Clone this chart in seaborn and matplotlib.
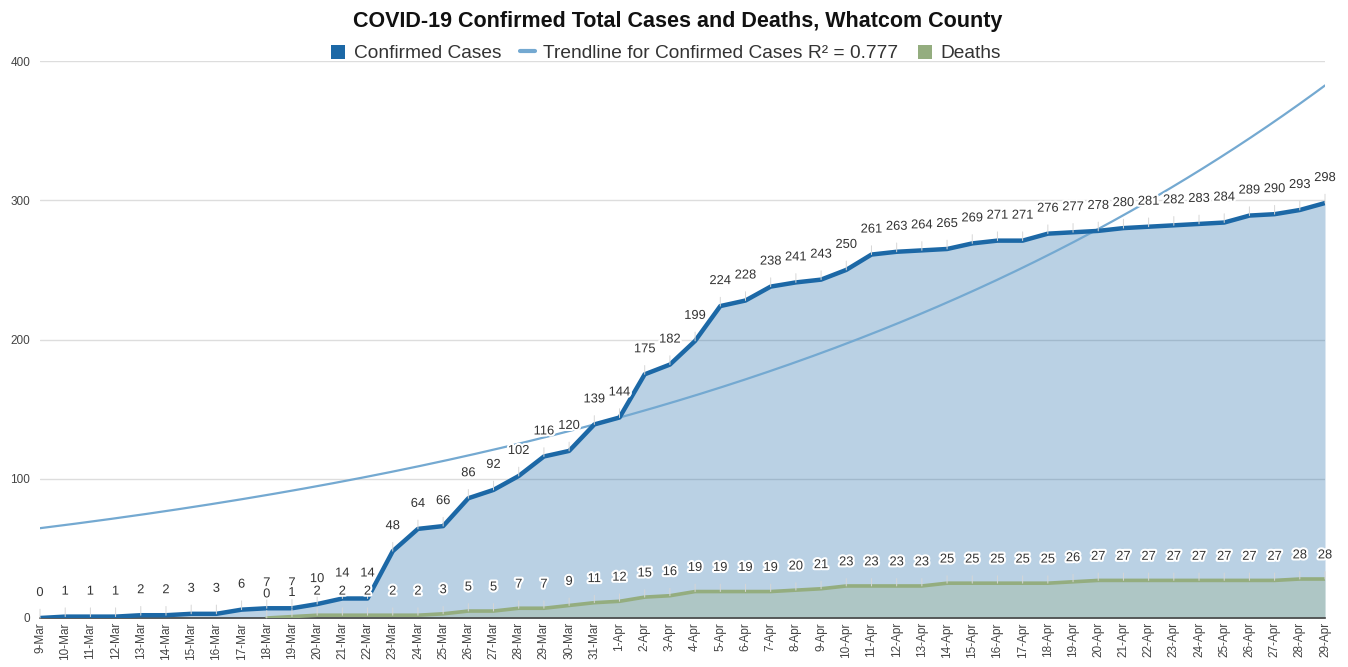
import matplotlib
matplotlib.use("Agg")
import matplotlib.pyplot as plt
import matplotlib.patheffects as pe
from matplotlib.lines import Line2D
from matplotlib.patches import Patch
import numpy as np
import pandas as pd
import seaborn as sns

DATES = (
    [f"{d}-Mar" for d in range(9, 32)]
    + [f"{d}-Apr" for d in range(1, 30)]
)
CASES = [
    0, 1, 1, 1, 2, 2, 3, 3, 6, 7, 7, 10, 14, 14, 48, 64, 66, 86, 92, 102, 116, 120, 139,
    144, 175, 182, 199, 224, 228, 238, 241, 243, 250, 261, 263, 264, 265, 269, 271, 271,
    276, 277, 278, 280, 281, 282, 283, 284, 289, 290, 293, 298,
]
# no deaths reported before 18-Mar
DEATHS = [
    None, None, None, None, None, None, None, None, None, 0, 1, 2, 2, 2, 2, 2, 3, 5, 5, 7, 7, 9, 11,
    12, 15, 16, 19, 19, 19, 19, 20, 21, 23, 23, 23, 23, 25, 25, 25, 25,
    25, 26, 27, 27, 27, 27, 27, 27, 27, 27, 28, 28,
]
# exponential trendline y = A * exp(B * day), coefficients
TREND_A = 64.5
TREND_B = 0.0349
TREND_LABEL = "Trendline for Confirmed Cases R\u00b2 = 0.777"

CASE_COLOR = "#1c68a6"
TREND_COLOR = "#74a9d1"
DEATH_COLOR = "#94ad7f"

df = pd.DataFrame({"day": np.arange(len(DATES)), "date": DATES,
                   "cases": CASES, "deaths": pd.array(DEATHS, dtype="Float64")})
df["deaths"] = df["deaths"].astype(float)

x_fine = np.linspace(0, len(DATES) - 1, 400)
trend = pd.DataFrame({"day": x_fine, "trend": TREND_A * np.exp(TREND_B * x_fine)})

sns.set_theme(style="white")
plt.rcParams["font.family"] = ["Liberation Sans", "DejaVu Sans"]

fig = plt.figure(figsize=(13.48, 6.67), dpi=100)
ax = fig.add_axes([40 / 1348, 49 / 667, 1285 / 1348, 557 / 667])

ax.fill_between(df["day"], df["cases"], 0, color=CASE_COLOR, alpha=0.3, lw=0, zorder=1)
ax.fill_between(df["day"], df["deaths"], 0, color=DEATH_COLOR, alpha=0.3, lw=0, zorder=2)
sns.lineplot(data=trend, x="day", y="trend", color=TREND_COLOR, lw=1.6, ax=ax, zorder=3)
sns.lineplot(data=df, x="day", y="deaths", color=DEATH_COLOR, lw=2.6, ax=ax, zorder=4)
sns.lineplot(data=df, x="day", y="cases", color=CASE_COLOR, lw=3.2, ax=ax, zorder=5)

halo = [pe.withStroke(linewidth=3, foreground="white")]
for col, offset in [("cases", 18), ("deaths", 17)]:
    for d, v in zip(df["day"], df[col]):
        if np.isnan(v):
            continue
        ax.annotate(
            f"{int(v)}", xy=(d, v), xytext=(0, offset), textcoords="offset points",
            ha="center", va="center", fontsize=9.3, color="#333333",
            path_effects=halo, zorder=7, annotation_clip=False,
            arrowprops=dict(arrowstyle="-", color="#d6d6d6", lw=0.7,
                            shrinkA=5, shrinkB=0),
        )

ax.set_xlim(0, len(DATES) - 1)
ax.set_ylim(0, 400)
ax.set_yticks([0, 100, 200, 300, 400])
ax.set_xticks(df["day"])
ax.set_xticklabels(DATES, rotation=90, fontsize=8.5, color="#444444")
ax.tick_params(axis="y", labelsize=8.5, labelcolor="#444444", pad=7, length=0)
ax.tick_params(axis="x", pad=3, length=0)
ax.set_xlabel("")
ax.set_ylabel("")
ax.grid(axis="y", color="#dddddd", lw=1)
ax.grid(axis="x", visible=False)
for s in ["left", "right", "top"]:
    ax.spines[s].set_visible(False)
ax.spines["bottom"].set_color("#444444")
ax.spines["bottom"].set_linewidth(1.2)
ax.set_axisbelow(True)

fig.text(0.503, 0.968, "COVID-19 Confirmed Total Cases and Deaths, Whatcom County",
         ha="center", va="center", fontsize=15.5, fontweight="bold", color="#111111")

handles = [
    Patch(facecolor=CASE_COLOR, edgecolor="none"),
    Line2D([0], [0], color=TREND_COLOR, lw=3),
    Patch(facecolor=DEATH_COLOR, edgecolor="none"),
]
fig.legend(handles, ["Confirmed Cases", TREND_LABEL, "Deaths"], loc="center",
           bbox_to_anchor=(0.494, 0.92), ncol=3, frameon=False, fontsize=13.8,
           handlelength=0.75, handleheight=0.75, handletextpad=0.45,
           columnspacing=1.0, labelcolor="#333333")

fig.savefig("out.png", dpi=100)
